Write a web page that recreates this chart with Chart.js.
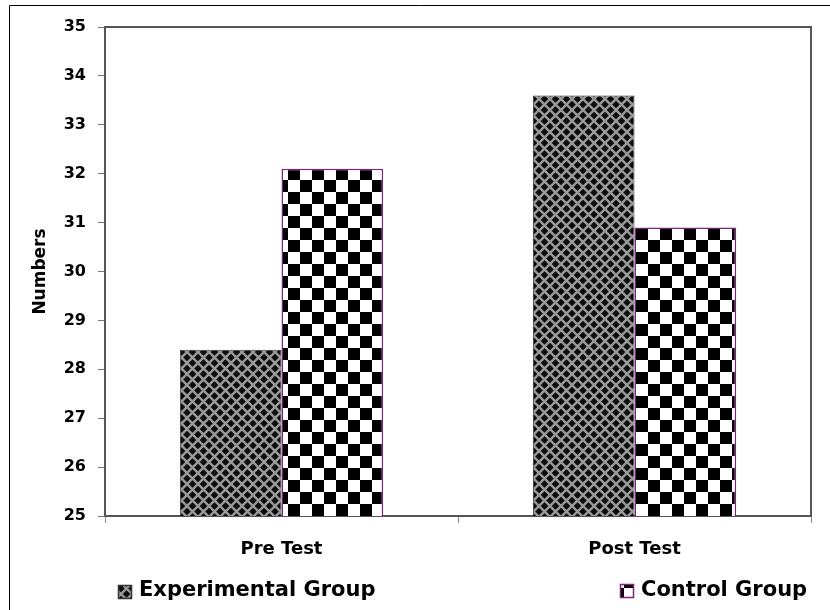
<!DOCTYPE html>
<html>
<head>
<meta charset="utf-8">
<script src="https://cdn.jsdelivr.net/npm/chart.js@4"></script>
<style>
  body { margin: 0; background: #fff; }
  canvas { display: block; }
</style>
</head>
<body>
<canvas id="chart" width="830" height="610"></canvas>
<script>
const categories = ["Pre Test", "Post Test"];
const seriesNames = ["Experimental Group", "Control Group"];
const experimentalValues = [28.4, 33.6];
const controlValues = [32.1, 30.9];
const yMin = 25;
const yMax = 35;
const yStep = 1;

const FONT = "'DejaVu Sans', sans-serif";

// diamond lattice fill for the experimental bars
function makeDiamondPattern() {
  const size = 11;
  const c = document.createElement("canvas");
  c.width = size;
  c.height = size;
  const g = c.getContext("2d");
  g.fillStyle = "#0c0c0c";
  g.fillRect(0, 0, size, size);
  g.strokeStyle = "#9a9a9a";
  g.lineWidth = 2.4;
  for (const k of [-size, 0, size]) {
    g.beginPath();
    g.moveTo(k, 0);
    g.lineTo(k + size, size);
    g.moveTo(k + size, 0);
    g.lineTo(k, size);
    g.stroke();
  }
  return g.createPattern(c, "repeat");
}

// black/white checkerboard for the control bars
function makeCheckerPattern() {
  const cell = 12;
  const c = document.createElement("canvas");
  c.width = cell * 2;
  c.height = cell * 2;
  const g = c.getContext("2d");
  g.fillStyle = "#fff";
  g.fillRect(0, 0, cell * 2, cell * 2);
  g.fillStyle = "#000";
  g.fillRect(0, 0, cell, cell);
  g.fillRect(cell, cell, cell, cell);
  return g.createPattern(c, "repeat");
}

const diamondFill = makeDiamondPattern();
const checkerFill = makeCheckerPattern();

const frameAndLegend = {
  id: "frameAndLegend",
  afterDraw(chart) {
    const { ctx, chartArea } = chart;
    ctx.save();
    // plot box top/right
    ctx.strokeStyle = "#555";
    ctx.lineWidth = 2;
    ctx.beginPath();
    ctx.moveTo(chartArea.left, chartArea.top);
    ctx.lineTo(chartArea.right, chartArea.top);
    ctx.lineTo(chartArea.right, chartArea.bottom);
    ctx.stroke();

    // outer frame (top + left)
    ctx.strokeStyle = "#000";
    ctx.lineWidth = 1;
    ctx.beginPath();
    ctx.moveTo(9.5, 610);
    ctx.lineTo(9.5, 5.5);
    ctx.lineTo(830, 5.5);
    ctx.stroke();

    // legend
    const items = [
      { label: seriesNames[0], fill: diamondFill, border: "#333", box: [118, 585], text: 139 },
      { label: seriesNames[1], fill: checkerFill, border: "#80207f", box: [620, 584], text: 641 },
    ];
    ctx.font = "bold 21px " + FONT;
    ctx.textBaseline = "alphabetic";
    ctx.textAlign = "left";
    items.forEach((it) => {
      ctx.fillStyle = it.fill;
      ctx.fillRect(it.box[0], it.box[1], 13, 13);
      ctx.strokeStyle = it.border;
      ctx.lineWidth = 1.5;
      ctx.strokeRect(it.box[0] + 0.5, it.box[1] + 0.5, 13, 13);
      ctx.fillStyle = "#000";
      ctx.fillText(it.label, it.text, 596);
    });
    ctx.restore();
  },
};

new Chart(document.getElementById("chart"), {
  type: "bar",
  data: {
    labels: categories,
    datasets: [
      {
        label: seriesNames[0],
        data: experimentalValues,
        backgroundColor: diamondFill,
        borderColor: "#333",
        borderWidth: 1,
      },
      {
        label: seriesNames[1],
        data: controlValues,
        backgroundColor: checkerFill,
        borderColor: "#80207f",
        borderWidth: 1.5,
      },
    ],
  },
  plugins: [frameAndLegend],
  options: {
    responsive: false,
    animation: false,
    layout: { padding: { left: 10, top: 27, right: 19, bottom: 0 } },
    datasets: {
      bar: { barPercentage: 1, categoryPercentage: 0.576 },
    },
    plugins: {
      legend: { display: false },
      tooltip: { enabled: false },
    },
    scales: {
      x: {
        offset: true,
        grid: {
          offset: true,
          drawOnChartArea: false,
          tickLength: 7,
          color: "#888",
        },
        border: { color: "#555", width: 2 },
        ticks: {
          color: "#000",
          padding: 16,
          font: { family: FONT, size: 18, weight: "bold" },
        },
        afterFit(scale) {
          scale.height = 94;
        },
      },
      y: {
        min: yMin,
        max: yMax,
        grid: {
          drawOnChartArea: false,
          tickLength: 7,
          color: "#777",
        },
        border: { color: "#555", width: 2 },
        ticks: {
          stepSize: yStep,
          color: "#000",
          padding: 12,
          font: { family: FONT, size: 16, weight: "bold" },
        },
        title: {
          display: true,
          text: "Numbers",
          color: "#000",
          padding: { top: 20, bottom: 0 },
          font: { family: FONT, size: 17, weight: "bold" },
        },
        afterFit(scale) {
          scale.width = 95;
        },
      },
    },
  },
});
</script>
</body>
</html>
